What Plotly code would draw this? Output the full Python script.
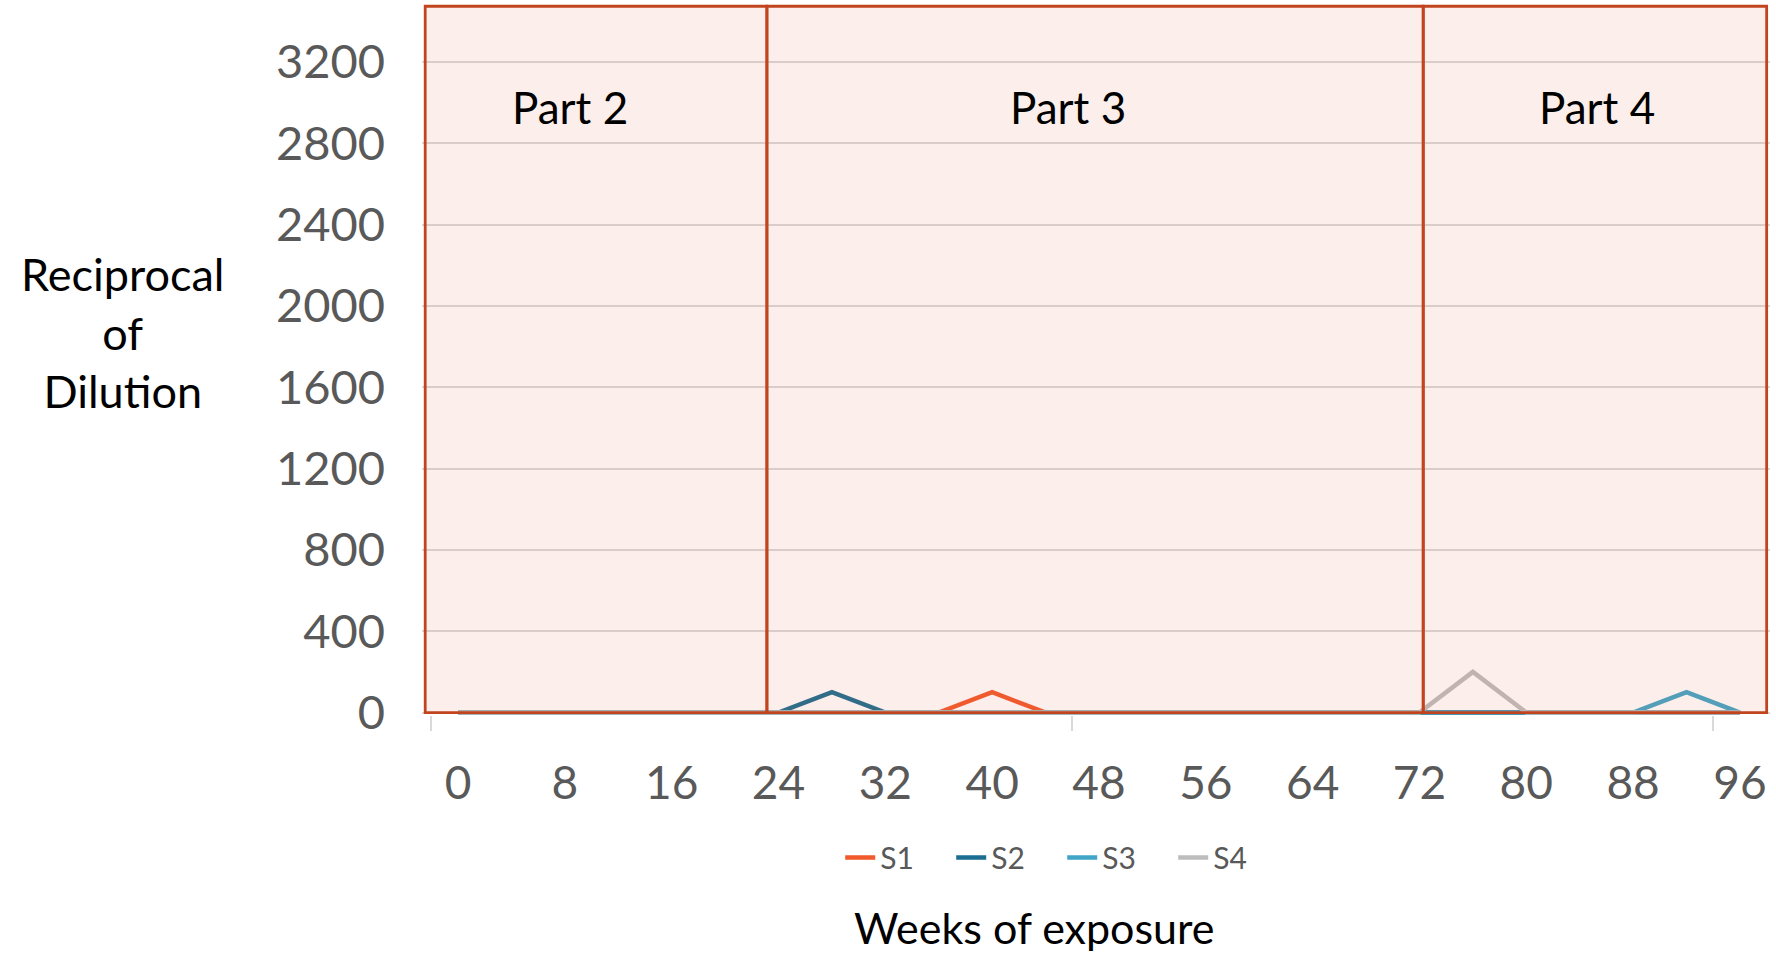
import plotly.graph_objects as go

# ---- data ----
weeks = [0, 4, 8, 12, 16, 20, 24, 28, 32, 36, 40, 44, 48, 52, 56, 60, 64, 68, 72, 76, 80, 84, 88, 92, 96]
s1 = [0, 0, 0, 0, 0, 0, 0, 0, 0, 0, 100, 0, 0, 0, 0, 0, 0, 0, 0, 0, 0, 0, 0, 0, 0]
s2 = [0, 0, 0, 0, 0, 0, 0, 100, 0, 0, 0, 0, 0, 0, 0, 0, 0, 0, 0, 0, 0, 0, 0, 0, 0]
s3 = [0, 0, 0, 0, 0, 0, 0, 0, 0, 0, 0, 0, 0, 0, 0, 0, 0, 0, 0, 0, 0, 0, 0, 100, 0]
s4 = [0, 0, 0, 0, 0, 0, 0, 0, 0, 0, 0, 0, 0, 0, 0, 0, 0, 0, 0, 200, 0, 0, 0, 0, 0]
series_names = ["S1", "S2", "S3", "S4"]
x_tick_vals = [0, 8, 16, 24, 32, 40, 48, 56, 64, 72, 80, 88, 96]
y_tick_vals = [0, 400, 800, 1200, 1600, 2000, 2400, 2800, 3200]
part_labels = ["Part 2", "Part 3", "Part 4"]
part_bounds = [-2.46, 23.13, 72.28, 98.0]
part_label_x = [8.4, 45.7, 85.3]

colors = ["#F15A2B", "#1B6D91", "#41A5C7", "#BDBDBD"]
FONT = "Lato, 'Open Sans', sans-serif"

fig = go.Figure()
for name, vals, col in zip(series_names, [s1, s2, s3, s4], colors):
    fig.add_trace(go.Scatter(x=weeks, y=vals, name=name, mode="lines",
                             line=dict(color=col, width=4.5)))

# invisible trace on secondary x-axis for the sparse tick marks
fig.add_trace(go.Scatter(x=[-2.7, 98.25], y=[None, None], xaxis="x2", showlegend=False,
                         hoverinfo="skip", mode="lines"))

XR = [-2.7, 98.25]
YR = [-12, 3495]
PX_L, PX_R = 421.7, 1769.9

shapes = []
y_top = 3474
# translucent pink overlays
for i in range(3):
    shapes.append(dict(type="rect", xref="x", yref="y", x0=part_bounds[i], x1=part_bounds[i + 1],
                       y0=0, y1=y_top, fillcolor="rgba(232,105,72,0.115)",
                       line=dict(width=0), layer="above"))
# borders
for i in range(3):
    shapes.append(dict(type="rect", xref="x", yref="y", x0=part_bounds[i], x1=part_bounds[i + 1],
                       y0=0, y1=y_top, fillcolor="rgba(0,0,0,0)",
                       line=dict(width=2.8, color="#C1441F"), layer="above"))

annotations = []
for lbl, xp in zip(part_labels, part_label_x):
    annotations.append(dict(text=lbl, x=xp, y=2977, xref="x", yref="y", showarrow=False,
                            xanchor="center", yanchor="middle",
                            font=dict(family=FONT, size=44, color="#000000")))
annotations.append(dict(text="Reciprocal<br>of<br>Dilution", x=(122 - PX_L) / (PX_R - PX_L), y=1870,
                        xref="paper", yref="y",
                        showarrow=False, xanchor="center", yanchor="middle", align="center",
                        font=dict(family=FONT, size=45, color="#000000")))
annotations.append(dict(text="Weeks of exposure", x=(1034 - PX_L) / (PX_R - PX_L), y=-0.298,
                        xref="paper", yref="paper", showarrow=False, xanchor="center", yanchor="middle",
                        font=dict(family=FONT, size=43, color="#000000")))

fig.update_layout(
    width=1776, height=954,
    margin=dict(l=PX_L, r=1776 - PX_R, t=2.35, b=239.06, pad=0),
    paper_bgcolor="white", plot_bgcolor="white",
    showlegend=True,
    legend=dict(orientation="h", x=(1062 - PX_L) / (PX_R - PX_L), xanchor="center",
                y=-0.2, yanchor="middle", entrywidth=66, entrywidthmode="pixels",
                font=dict(family=FONT, size=30, color="#595959"), bgcolor="rgba(0,0,0,0)",
                traceorder="normal"),
    xaxis=dict(range=XR, tickvals=x_tick_vals, ticktext=[str(v) for v in x_tick_vals],
               showgrid=False, zeroline=False, showline=False, ticks="",
               ticklabelstandoff=37,
               tickfont=dict(family=FONT, size=46, color="#595959")),
    xaxis2=dict(range=XR, overlaying="x", side="bottom", tickvals=[-2, 46, 94],
                showticklabels=False, ticks="outside", ticklen=15, tickwidth=1.5,
                tickcolor="#D9D9D9", showgrid=False, zeroline=False, showline=False),
    yaxis=dict(range=YR, tickvals=y_tick_vals, ticktext=[str(v) for v in y_tick_vals],
               showgrid=True, gridcolor="#D9D9D9", gridwidth=1.5, zeroline=False, showline=False,
               ticks="", ticklabelstandoff=36,
               tickfont=dict(family=FONT, size=47, color="#595959")),
    shapes=shapes, annotations=annotations,
)

fig.write_html("out.html")
